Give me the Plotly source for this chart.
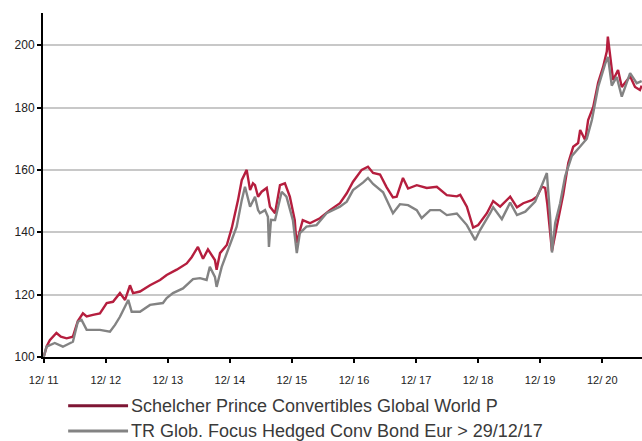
import plotly.graph_objects as go

# ---------------- data ----------------
sp_dates = [
    "2011-12-30", "2012-01-17", "2012-02-04", "2012-03-14", "2012-04-09", "2012-05-13",
    "2012-06-19", "2012-07-18", "2012-08-17", "2012-09-08", "2012-10-15", "2012-11-25",
    "2013-01-04", "2013-02-10", "2013-03-23", "2013-04-22", "2013-05-21", "2013-06-08",
    "2013-07-19", "2013-09-16", "2013-11-14", "2013-12-23", "2014-02-20", "2014-04-20",
    "2014-05-19", "2014-06-25", "2014-07-25", "2014-08-23", "2014-10-03", "2014-10-13",
    "2014-11-02", "2014-12-12", "2015-01-10", "2015-01-30", "2015-02-16", "2015-03-10",
    "2015-04-08", "2015-04-28", "2015-05-15", "2015-05-27", "2015-06-14", "2015-07-05",
    "2015-08-04", "2015-08-23", "2015-09-22", "2015-10-21", "2015-11-19", "2015-12-18",
    "2016-01-16", "2016-01-26", "2016-02-15", "2016-03-03", "2016-04-14", "2016-06-12",
    "2016-08-10", "2016-10-08", "2016-11-17", "2016-12-24", "2017-02-13", "2017-03-22",
    "2017-04-21", "2017-06-01", "2017-07-10", "2017-08-16", "2017-09-07", "2017-10-14",
    "2017-11-13", "2018-01-03", "2018-03-03", "2018-05-01", "2018-06-29", "2018-08-27",
    "2018-09-16", "2018-10-25", "2018-12-01", "2018-12-31", "2019-02-20", "2019-03-29",
    "2019-05-09", "2019-07-07", "2019-08-16", "2019-09-22", "2019-11-12", "2019-12-11",
    "2020-01-10", "2020-01-29", "2020-02-10", "2020-03-09", "2020-04-07", "2020-05-14",
    "2020-06-13", "2020-07-12", "2020-08-10", "2020-08-22", "2020-09-21", "2020-10-08",
    "2020-11-07", "2020-12-06", "2021-01-04", "2021-01-26", "2021-02-01", "2021-02-15",
    "2021-03-04", "2021-04-02", "2021-04-24", "2021-06-12", "2021-07-11", "2021-08-09",
    "2021-08-19",
]
sp_values = [
    100.0, 103.5, 105.4, 107.7, 106.5, 106.0,
    106.5, 111.5, 114.0, 113.0, 113.5, 114.0,
    117.3, 117.7, 120.5, 118.3, 123.0, 120.5,
    121.0, 123.0, 124.7, 126.3, 128.0, 130.0,
    132.0, 135.3, 131.5, 134.5, 131.1, 128.0,
    133.3, 135.9, 141.3, 146.0, 150.3, 156.7,
    160.0, 153.5, 155.7, 155.1, 151.4, 153.0,
    154.2, 148.2, 146.1, 155.1, 155.7, 151.4,
    143.9, 136.5, 141.0, 143.9, 142.9, 144.5,
    147.1, 149.3, 152.5, 156.2, 160.0, 161.0,
    159.0, 158.5, 154.4, 151.2, 151.4, 157.4,
    154.0, 155.1, 154.2, 154.6, 151.9, 151.5,
    152.0, 148.2, 141.5, 142.3, 146.1, 150.0,
    148.2, 151.4, 148.0, 149.3, 150.3, 151.4,
    154.6, 154.2, 149.3, 134.0, 142.0, 152.0,
    162.2, 167.4, 168.6, 172.8, 169.5, 176.0,
    180.2, 188.0, 193.0, 198.0, 202.7, 196.0,
    188.8, 192.0, 186.6, 190.0, 186.6, 185.6,
    187.0,
]

tr_dates = [
    "2011-12-30", "2012-01-16", "2012-03-04", "2012-04-21", "2012-06-19", "2012-07-18",
    "2012-08-09", "2012-09-08", "2012-11-25", "2013-01-23", "2013-02-22", "2013-03-23",
    "2013-05-11", "2013-05-31", "2013-07-19", "2013-09-16", "2013-12-01", "2013-12-23",
    "2014-01-29", "2014-03-29", "2014-05-27", "2014-07-07", "2014-08-15", "2014-09-03",
    "2014-10-03", "2014-10-13", "2014-11-12", "2014-12-31", "2015-02-08", "2015-03-10",
    "2015-03-29", "2015-04-28", "2015-05-27", "2015-06-14", "2015-06-25", "2015-07-25",
    "2015-08-11", "2015-08-17", "2015-08-29", "2015-09-22", "2015-10-31", "2015-11-28",
    "2016-01-05", "2016-01-28", "2016-02-15", "2016-03-25", "2016-05-23", "2016-07-21",
    "2016-10-08", "2016-11-17", "2016-12-24", "2017-02-22", "2017-03-22", "2017-04-21",
    "2017-06-19", "2017-08-16", "2017-09-26", "2017-11-13", "2018-01-03", "2018-02-01",
    "2018-03-23", "2018-05-20", "2018-06-29", "2018-08-27", "2018-10-25", "2018-12-13",
    "2019-01-11", "2019-03-11", "2019-03-29", "2019-05-19", "2019-07-07", "2019-08-16",
    "2019-10-04", "2019-12-01", "2020-01-10", "2020-02-08", "2020-02-27", "2020-03-09",
    "2020-03-28", "2020-04-26", "2020-05-26", "2020-07-04", "2020-08-22", "2020-09-30",
    "2020-10-30", "2020-12-06", "2021-01-16", "2021-02-02", "2021-02-24", "2021-03-25",
    "2021-04-24", "2021-06-12", "2021-07-21", "2021-08-19",
]
tr_values = [
    100.0, 103.3, 104.5, 103.3, 104.9, 111.3,
    111.9, 108.7, 108.7, 108.1, 110.3, 112.9,
    118.3, 114.5, 114.5, 116.7, 117.3, 118.9,
    120.5, 122.0, 125.0, 125.3, 124.7, 128.9,
    125.7, 122.5, 128.9, 135.9, 141.8, 150.3,
    154.6, 148.2, 151.4, 147.1, 146.1, 147.1,
    145.0, 135.3, 144.0, 143.9, 153.0, 151.4,
    143.9, 133.3, 139.7, 141.8, 142.3, 146.1,
    148.2, 149.8, 153.5, 156.0, 157.4, 155.5,
    152.8, 146.1, 149.0, 148.7, 147.1, 144.5,
    147.1, 147.1, 145.5, 146.0, 142.3, 137.5,
    140.7, 146.1, 148.0, 144.2, 149.5, 145.5,
    146.6, 149.8, 155.1, 159.0, 145.0, 133.5,
    143.0, 149.3, 158.0, 164.5, 167.5, 170.0,
    176.0, 186.6, 194.0, 196.2, 187.0, 189.8,
    183.5, 191.0, 187.8, 188.5,
]

tick_dates = ["2011-12-30", "2012-12-30", "2013-12-30", "2014-12-30", "2015-12-30",
              "2016-12-30", "2017-12-30", "2018-12-30", "2019-12-30", "2020-12-30"]
tick_labels = ["12/ 11", "12/ 12", "12/ 13", "12/ 14", "12/ 15",
               "12/ 16", "12/ 17", "12/ 18", "12/ 19", "12/ 20"]
y_ticks = [100, 120, 140, 160, 180, 200]

series_names = ["Schelcher Prince Convertibles Global World P",
                "TR Glob. Focus Hedged Conv Bond Eur > 29/12/17"]

# ---------------- styles ----------------
RED = "#B51E3E"
RED_LEGEND = "#7E1634"
GREY = "#838383"
FONT = "Liberation Sans, Arial, sans-serif"

fig = go.Figure()
fig.add_trace(go.Scatter(x=sp_dates, y=sp_values, mode="lines", name=series_names[0],
                         line=dict(color=RED, width=2.4), showlegend=False))
fig.add_trace(go.Scatter(x=tr_dates, y=tr_values, mode="lines", name=series_names[1],
                         line=dict(color=GREY, width=2.4), showlegend=False))

# manual legend (long line samples like the reference)
legend_rows = [(series_names[0], RED_LEGEND, -0.142), (series_names[1], GREY, -0.215)]
for name, col, yy in legend_rows:
    fig.add_shape(type="line", xref="paper", yref="paper",
                  x0=0.042, x1=0.142, y0=yy, y1=yy,
                  line=dict(color=col, width=3))
    fig.add_annotation(xref="paper", yref="paper", x=0.143, y=yy, text=name,
                       showarrow=False, xanchor="left", yanchor="middle",
                       font=dict(family=FONT, size=18, color="#3a3a3a"))

fig.update_layout(
    width=642, height=441,
    margin=dict(l=43, r=0, t=13, b=84, autoexpand=False),
    paper_bgcolor="white", plot_bgcolor="white",
    font=dict(family=FONT, color="#222222"),
    showlegend=False,
)
fig.update_xaxes(
    type="date", range=["2011-12-26", "2021-08-21"],
    tickmode="array", tickvals=tick_dates, ticktext=tick_labels,
    tickfont=dict(size=11, color="#222222"),
    ticks="outside", ticklen=4, tickwidth=1.5, tickcolor="black",
    ticklabelstandoff=8, automargin=False,
    showline=True, linecolor="black", linewidth=2,
    showgrid=False, zeroline=False,
)
fig.update_yaxes(
    range=[100, 210.3], automargin=False,
    tickmode="array", tickvals=y_ticks,
    tickfont=dict(size=12, color="#222222"),
    ticks="outside", ticklen=4, tickwidth=1.5, tickcolor="black",
    showline=True, linecolor="black", linewidth=2,
    showgrid=True, gridcolor="#C8C8C8", gridwidth=1.5,
    zeroline=False,
)

fig.write_html("out.html", config={"displayModeBar": False},
               post_script="document.body.style.margin='0';document.body.style.overflow='hidden';")
